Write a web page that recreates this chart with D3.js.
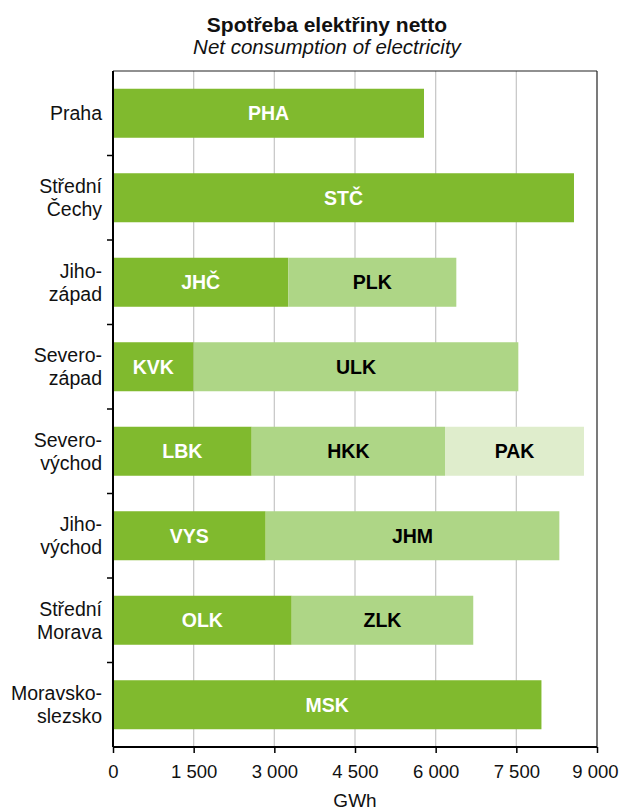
<!DOCTYPE html>
<html>
<head>
<meta charset="utf-8">
<script src="https://cdn.jsdelivr.net/npm/d3@7"></script>
<style>
  body { margin: 0; background: #fff; }
  svg { display: block; font-family: "Liberation Sans", Arial, sans-serif; }
</style>
</head>
<body>
<svg id="chart" width="619" height="810"></svg>
<script>
// Regions (two-line labels) and their constituent kraje
const regions = [
  ["Praha"],
  ["Střední", "Čechy"],
  ["Jiho-", "západ"],
  ["Severo-", "západ"],
  ["Severo-", "východ"],
  ["Jiho-", "východ"],
  ["Střední", "Morava"],
  ["Moravsko-", "slezsko"]
];
const firstCodes  = ["PHA", "STČ", "JHČ", "KVK", "LBK", "VYS", "OLK", "MSK"];
const firstValues = [5783, 8572, 3260, 1500, 2579, 2839, 3323, 7967];
const secondCodes  = [null, null, "PLK", "ULK", "HKK", "JHM", "ZLK", null];
const secondValues = [0, 0, 3124, 6037, 3595, 5461, 3376, 0];
const thirdCodes  = [null, null, null, null, "PAK", null, null, null];
const thirdValues = [0, 0, 0, 0, 2584, 0, 0, 0];
const xTicks = [0, 1500, 3000, 4500, 6000, 7500, 9000];

const colors = ["#80BA2E", "#AED686", "#DFEDCC"];
const labelColors = ["#ffffff", "#000000", "#000000"];

const margin = { top: 71, right: 22, bottom: 63, left: 113 };
const W = 619, H = 810;
const iw = W - margin.left - margin.right;
const ih = H - margin.top - margin.bottom;

const svg = d3.select("#chart");
const g = svg.append("g").attr("transform", `translate(${margin.left},${margin.top})`);

const x = d3.scaleLinear().domain([0, 9000]).range([0, iw]);
const y = d3.scaleBand().domain(d3.range(regions.length)).range([0, ih]).paddingInner(0.42).paddingOuter(0.21);

// vertical gridlines
g.append("g").selectAll("line").data(xTicks.slice(1, -1)).join("line")
  .attr("x1", d => x(d)).attr("x2", d => x(d))
  .attr("y1", 0).attr("y2", ih)
  .attr("stroke", "#c9c9c9").attr("stroke-width", 1.3);

// stacked segments
const rows = regions.map((r, i) => {
  const segs = [];
  let acc = 0;
  [[firstCodes, firstValues], [secondCodes, secondValues], [thirdCodes, thirdValues]].forEach(([codes, vals], k) => {
    if (codes[i]) {
      segs.push({ row: i, level: k, code: codes[i], x0: acc, x1: acc + vals[i] });
      acc += vals[i];
    }
  });
  return segs;
}).flat();

g.append("g").selectAll("rect").data(rows).join("rect")
  .attr("x", d => x(d.x0))
  .attr("y", d => y(d.row))
  .attr("width", d => x(d.x1) - x(d.x0))
  .attr("height", y.bandwidth())
  .attr("fill", d => colors[d.level]);

g.append("g").selectAll("text").data(rows).join("text")
  .attr("x", d => (x(d.x0) + x(d.x1)) / 2)
  .attr("y", d => y(d.row) + y.bandwidth() / 2)
  .attr("dy", "0.36em")
  .attr("text-anchor", "middle")
  .attr("font-size", 19.5)
  .attr("font-weight", "bold")
  .attr("fill", d => labelColors[d.level])
  .text(d => d.code);

// frame: thin top and right
g.append("line").attr("x1", 0).attr("x2", iw).attr("y1", 0).attr("y2", 0)
  .attr("stroke", "#222").attr("stroke-width", 1.2);
g.append("line").attr("x1", iw).attr("x2", iw).attr("y1", 0).attr("y2", ih)
  .attr("stroke", "#222").attr("stroke-width", 1.2);

// x axis
const xAxis = d3.axisBottom(x).tickValues(xTicks).tickSize(6).tickPadding(0)
  .tickFormat(d => d3.format(",")(d).replace(/,/g, " "));
const xa = g.append("g").attr("transform", `translate(0,${ih})`).call(xAxis);
xa.select(".domain").attr("stroke", "#000").attr("stroke-width", 2).attr("d", `M0,0H${iw}`);
xa.selectAll(".tick line").attr("stroke", "#000").attr("stroke-width", 1.5);
xa.selectAll(".tick text").attr("font-size", 18.5).attr("fill", "#111")
  .attr("font-family", "Liberation Sans, Arial, sans-serif")
  .attr("y", 778 - margin.top - ih).attr("dy", null)
  .attr("x", d => d === 9000 ? -2 : 0);

// y axis: ticks between categories
g.append("line").attr("x1", 0).attr("x2", 0).attr("y1", 0).attr("y2", ih)
  .attr("stroke", "#000").attr("stroke-width", 2);
g.append("g").selectAll("line").data(d3.range(1, regions.length)).join("line")
  .attr("x1", -6).attr("x2", 0)
  .attr("y1", d => y(d) - y.step() * y.paddingInner() / 2)
  .attr("y2", d => y(d) - y.step() * y.paddingInner() / 2)
  .attr("stroke", "#000").attr("stroke-width", 1.5);

// category labels
const cat = g.append("g").selectAll("text").data(regions).join("text")
  .attr("text-anchor", "end")
  .attr("font-size", 19.5)
  .attr("fill", "#111")
  .attr("transform", (d, i) => `translate(-11,${y(i) + y.bandwidth() / 2})`);
cat.each(function (lines) {
  const t = d3.select(this);
  const lh = 23;
  const start = -(lines.length - 1) * lh / 2;
  lines.forEach((ln, j) => {
    t.append("tspan").attr("x", 0).attr("y", start + j * lh).attr("dy", "0.36em").text(ln);
  });
});

// titles
svg.append("text").attr("x", 327).attr("y", 32).attr("text-anchor", "middle")
  .attr("font-size", 21).attr("font-weight", "bold").attr("fill", "#111")
  .text("Spotřeba elektřiny netto");
svg.append("text").attr("x", 327).attr("y", 54).attr("text-anchor", "middle")
  .attr("font-size", 20.5).attr("font-style", "italic").attr("fill", "#111")
  .text("Net consumption of electricity");

// axis title
svg.append("text").attr("x", margin.left + iw / 2).attr("y", 807).attr("text-anchor", "middle")
  .attr("font-size", 19).attr("fill", "#111").text("GWh");
</script>
</body>
</html>
